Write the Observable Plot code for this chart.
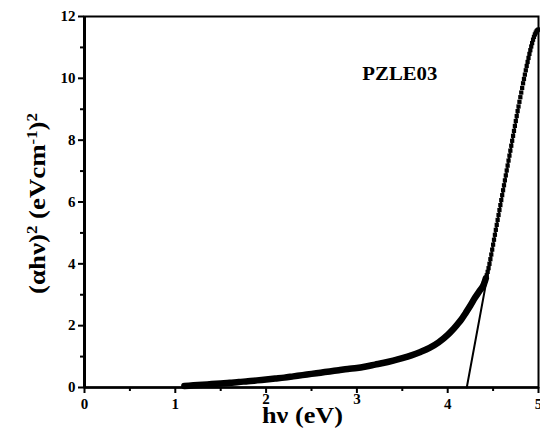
<!DOCTYPE html>
<html>
<head>
<meta charset="utf-8">
<script src="https://cdn.jsdelivr.net/npm/d3@7"></script>
<script src="https://cdn.jsdelivr.net/npm/@observablehq/plot@0.6"></script>
<style>
  html, body { margin: 0; padding: 0; background: #fff; }
  #chart svg { display: block; }
</style>
</head>
<body>
<div id="chart"></div>
<script>
// Tauc plot for PZLE03: (αhν)² versus photon energy hν
const sampleName = "PZLE03";

// Gentle absorption tail (eV, (eVcm⁻¹)²)
const tailEnergy = [1.1, 1.2, 1.3, 1.4, 1.5, 1.6, 1.7, 1.8, 1.9, 2.0, 2.1, 2.2, 2.3, 2.4, 2.5, 2.6, 2.7, 2.8, 2.9, 3.0,
  3.1, 3.2, 3.3, 3.4, 3.5, 3.6, 3.7, 3.8, 3.9, 4.0, 4.05, 4.1, 4.15, 4.2, 4.25, 4.3, 4.35, 4.4];
const tailValue = [0.05, 0.07, 0.09, 0.11, 0.13, 0.15, 0.18, 0.2, 0.23, 0.26, 0.29, 0.32, 0.36, 0.4, 0.44, 0.48, 0.52, 0.56, 0.6, 0.63,
  0.68, 0.74, 0.8, 0.87, 0.95, 1.04, 1.15, 1.28, 1.46, 1.7, 1.85, 2.02, 2.2, 2.42, 2.65, 2.9, 3.12, 3.35];

// Absorption edge, sampled every 0.01 eV
const edgeEnergy = [4.41, 4.42, 4.43, 4.44, 4.45, 4.46, 4.47, 4.48, 4.49, 4.50,
  4.51, 4.52, 4.53, 4.54, 4.55, 4.56, 4.57, 4.58, 4.59, 4.60,
  4.61, 4.62, 4.63, 4.64, 4.65, 4.66, 4.67, 4.68, 4.69, 4.70,
  4.71, 4.72, 4.73, 4.74, 4.75, 4.76, 4.77, 4.78, 4.79, 4.80,
  4.81, 4.82, 4.83, 4.84, 4.85, 4.86, 4.87, 4.88, 4.89, 4.90,
  4.91, 4.92, 4.93, 4.94, 4.95, 4.96, 4.97, 4.98, 4.99, 5.00];
const edgeValue = [3.44, 3.53, 3.63, 3.74, 3.86, 4.0, 4.15, 4.3, 4.46, 4.62,
  4.78, 4.94, 5.1, 5.26, 5.42, 5.58, 5.74, 5.9, 6.06, 6.22,
  6.38, 6.54, 6.7, 6.86, 7.02, 7.18, 7.34, 7.5, 7.66, 7.82,
  7.98, 8.14, 8.3, 8.46, 8.62, 8.78, 8.94, 9.09, 9.24, 9.39,
  9.54, 9.69, 9.84, 9.98, 10.12, 10.26, 10.4, 10.53, 10.66, 10.79,
  10.91, 11.03, 11.14, 11.25, 11.34, 11.42, 11.48, 11.53, 11.56, 11.58];

// Linear extrapolation of the edge to the energy axis (band gap ≈ 4.21 eV)
const fitEnergy = [4.21, 4.78];
const fitValue = [0, 9.06];

const xTicks = [0, 1, 2, 3, 4, 5];
const xMinor = [0.5, 1.5, 2.5, 3.5, 4.5];
const yTicks = [0, 2, 4, 6, 8, 10, 12];
const yMinor = [1, 3, 5, 7, 9, 11];

const tail = tailEnergy.map((e, i) => ({e, v: tailValue[i]}));
const edge = edgeEnergy.map((e, i) => ({e, v: edgeValue[i]}));
const fit = fitEnergy.map((e, i) => ({e, v: fitValue[i]}));
// the dense tail band runs a couple of samples into the edge so the two join smoothly
const band = tail.concat(edge.filter(d => d.e <= 4.42));

const serif = "'Liberation Serif', 'Times New Roman', serif";
const fmt = d => String(d);

const chart = Plot.plot({
  width: 540,
  height: 438,
  marginLeft: 84,
  marginRight: 2,
  marginTop: 16,
  marginBottom: 51,
  style: {fontFamily: serif, fontWeight: "bold", fontSize: "15px", color: "#000", background: "#fff"},
  x: {domain: [0, 5]},
  y: {domain: [0, 12]},
  marks: [
    Plot.axisX({ticks: xTicks.filter(t => t !== 2 && t !== 3), tickSize: 6, tickPadding: 5, strokeWidth: 2, tickFormat: fmt, label: null}),
    Plot.axisX({ticks: [2, 3], tickSize: 6, tickPadding: 0, strokeWidth: 2, tickFormat: fmt, label: null}),
    Plot.axisX({ticks: xMinor, tickSize: 4, strokeWidth: 2, text: null, label: null}),
    Plot.axisY({ticks: yTicks, tickSize: 6, tickPadding: 3, strokeWidth: 2, tickFormat: fmt, label: null}),
    Plot.axisY({ticks: yMinor, tickSize: 4, strokeWidth: 2, text: null, label: null}),
    Plot.frame({stroke: "#000", strokeWidth: 2}),
    Plot.ruleX([0], {stroke: "#000", strokeWidth: 3}),
    Plot.ruleY([0], {stroke: "#000", strokeWidth: 2.5}),
    Plot.line(fit, {x: "e", y: "v", stroke: "#000", strokeWidth: 2}),
    Plot.line(band, {x: "e", y: "v", stroke: "#000", strokeWidth: 6.5, curve: "monotone-x", strokeLinecap: "round"}),
    Plot.dot(edge, {x: "e", y: "v", symbol: "square", r: 2.4, fill: "#000", stroke: null}),
    Plot.text([sampleName], {x: 3.06, y: 9.94, text: d => d, textAnchor: "start", lineAnchor: "bottom", fontSize: 19, fontWeight: "bold"}),
    Plot.text(["hν (eV)"], {frameAnchor: "bottom", dx: -9, dy: 28, text: d => d, textAnchor: "middle", lineAnchor: "middle", fontSize: 24, fontWeight: "bold"}),
    Plot.text(["y-title"], {frameAnchor: "left", dx: -47, dy: 1.5, text: d => d, rotate: -90, textAnchor: "middle", lineAnchor: "middle", fontSize: 24, fontWeight: "bold"})
  ]
});

const svg = d3.select(chart);
const byText = s => svg.selectAll("text").filter(function() { return this.textContent === s; });

// Rich y title with superscripts
byText("y-title").each(function() {
  const t = d3.select(this);
  t.text(null).attr("textLength", 181).attr("lengthAdjust", "spacingAndGlyphs");
  const parts = [
    ["(αhν)", false], ["2", true], [" (eVcm", false], ["-1", true], [")", false], ["2", true]
  ];
  parts.forEach(([s, sup]) => {
    const span = t.append("tspan").text(s);
    if (sup) span.attr("font-size", 15).attr("baseline-shift", "55%");
  });
});
byText("hν (eV)").attr("textLength", 81).attr("lengthAdjust", "spacingAndGlyphs");
byText(sampleName).attr("textLength", 75).attr("lengthAdjust", "spacingAndGlyphs");

document.getElementById("chart").appendChild(chart);
</script>
</body>
</html>
